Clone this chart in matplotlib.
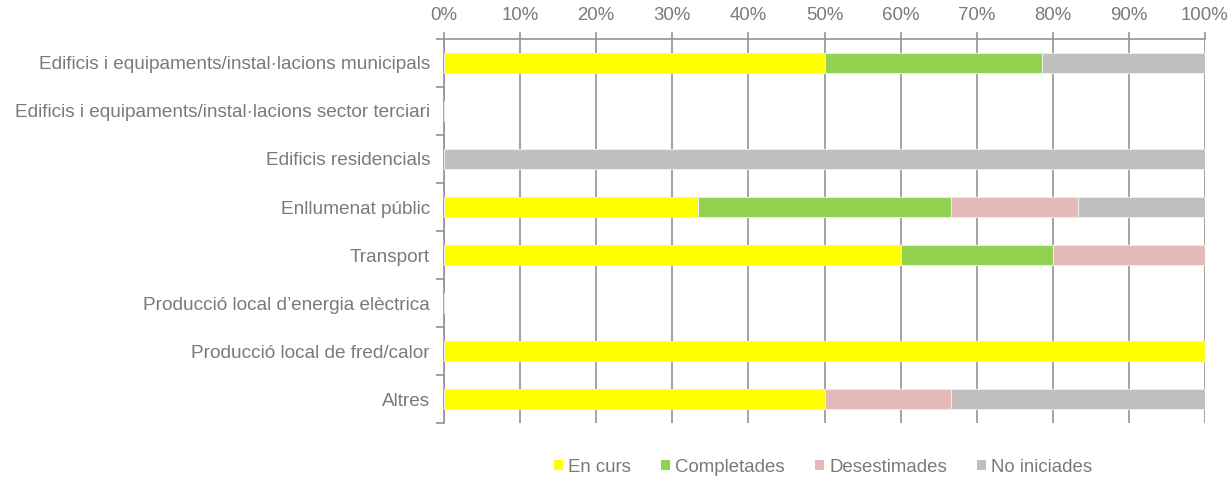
import matplotlib.pyplot as plt
import numpy as np

plt.rcParams['font.family'] = ['Liberation Sans', 'DejaVu Sans']

categories = [
    "Edificis i equipaments/instal·lacions municipals",
    "Edificis i equipaments/instal·lacions sector terciari",
    "Edificis residencials",
    "Enllumenat públic",
    "Transport",
    "Producció local d’energia elèctrica",
    "Producció local de fred/calor",
    "Altres",
]
series_names = ["En curs", "Completades", "Desestimades", "No iniciades"]
en_curs = [50.0, 0, 0, 33.33, 60.0, 0, 100.0, 50.0]
completades = [28.57, 0, 0, 33.33, 20.0, 0, 0, 0]
desestimades = [0, 0, 0, 16.67, 20.0, 0, 0, 16.67]
no_iniciades = [21.43, 0, 100.0, 16.67, 0, 0, 0, 33.33]
colors = ["#FFFF00", "#92D050", "#E6B8B7", "#BFBFBF"]
xticks = list(range(0, 101, 10))

text_col = "#7A7A7A"
line_col = "#939393"
fs = 13.7

fig = plt.figure(figsize=(12.32, 4.8), dpi=100)
ax = fig.add_axes([444 / 1232, 1 - 423 / 480, (1205 - 444) / 1232, 384 / 480])

y = np.arange(len(categories))
left = np.zeros(len(categories))
for name, vals, c in zip(series_names, [en_curs, completades, desestimades, no_iniciades], colors):
    vals = np.array(vals)
    ax.barh(y, vals, left=left, height=0.4, color=c, edgecolor="#EBEBEB",
            linewidth=0.8, label=name, zorder=3)
    left += vals

ax.set_xlim(0, 100)
ax.set_ylim(len(categories) - 0.5, -0.5)
ax.set_xticks(xticks)
ax.set_xticklabels([f"{v}%" for v in xticks])
ax.xaxis.tick_top()
ax.tick_params(axis="x", which="major", length=5, width=1.2, color=line_col,
               labelcolor=text_col, labelsize=13.4, pad=6)
ax.grid(axis="x", color=line_col, linewidth=1.2, zorder=0)

ax.set_yticks(y)
ax.set_yticklabels(categories)
ax.set_yticks(np.arange(-0.5, len(categories), 1), minor=True)
ax.tick_params(axis="y", which="major", length=0, labelcolor=text_col, labelsize=fs, pad=10)
ax.tick_params(axis="y", which="minor", length=6, width=1.2, color=line_col)

for s in ["right", "bottom"]:
    ax.spines[s].set_visible(False)
for s in ["left", "top"]:
    ax.spines[s].set_color(line_col)
    ax.spines[s].set_linewidth(1.2)

leg = fig.legend(loc="center", bbox_to_anchor=(0.668, 1 - 467 / 480), ncol=4,
                 frameon=False, handlelength=0.5, handleheight=0.5, handletextpad=0.27,
                 columnspacing=1.6, fontsize=13.4)
for t in leg.get_texts():
    t.set_color(text_col)
for h in leg.legend_handles:
    h.set_edgecolor("none")

fig.savefig("out.png", dpi=100)
